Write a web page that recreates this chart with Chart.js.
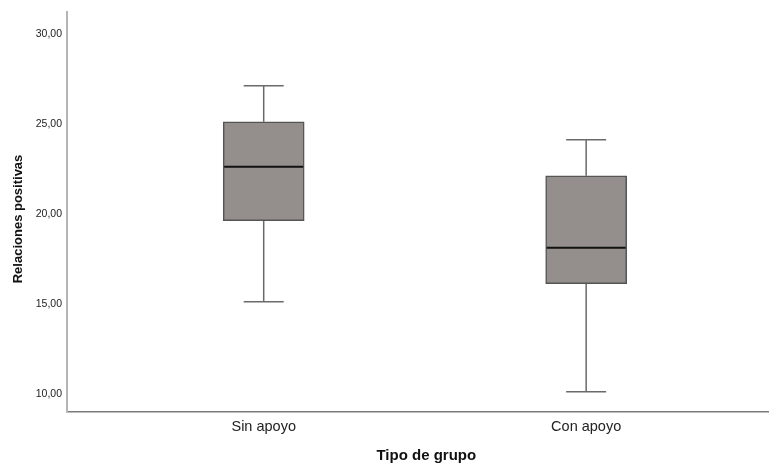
<!DOCTYPE html>
<html>
<head>
<meta charset="utf-8">
<script src="https://cdn.jsdelivr.net/npm/chart.js@4/dist/chart.umd.min.js"></script>
<style>
  html, body { margin: 0; padding: 0; background: #fff; }
  #wrap { width: 769px; height: 466px; }
</style>
</head>
<body>
<div id="wrap"><canvas id="myChart" width="769" height="466"></canvas></div>
<script>
const groups = ['Sin apoyo', 'Con apoyo'];
const whiskerLow = [15, 10];
const q1 = [19.5, 16];
const median = [22.5, 18];
const q3 = [25, 22];
const whiskerHigh = [27, 24];
const yTicks = [10, 15, 20, 25, 30];

const fontFamily = '"Liberation Sans", Arial, sans-serif';
const ctx = document.getElementById('myChart').getContext('2d');

// whiskers behind the box, median on top
const boxPlotLines = {
  id: 'boxPlotLines',
  beforeDatasetsDraw(chart) {
    const { ctx, scales: { x, y } } = chart;
    ctx.save();
    ctx.strokeStyle = '#6a6a6a';
    ctx.lineWidth = 1.5;
    groups.forEach((g, i) => {
      const cx = x.getPixelForValue(i + 1);
      const half = 20;
      ctx.beginPath();
      ctx.moveTo(cx, y.getPixelForValue(whiskerLow[i]));
      ctx.lineTo(cx, y.getPixelForValue(q1[i]));
      ctx.moveTo(cx, y.getPixelForValue(q3[i]));
      ctx.lineTo(cx, y.getPixelForValue(whiskerHigh[i]));
      ctx.moveTo(cx - half, y.getPixelForValue(whiskerLow[i]));
      ctx.lineTo(cx + half, y.getPixelForValue(whiskerLow[i]));
      ctx.moveTo(cx - half, y.getPixelForValue(whiskerHigh[i]));
      ctx.lineTo(cx + half, y.getPixelForValue(whiskerHigh[i]));
      ctx.stroke();
    });
    ctx.restore();
  },
  afterDatasetsDraw(chart) {
    const { ctx, scales: { x, y } } = chart;
    const meta = chart.getDatasetMeta(0);
    ctx.save();
    ctx.strokeStyle = '#111';
    ctx.lineWidth = 2;
    groups.forEach((g, i) => {
      const bar = meta.data[i];
      const half = bar.width / 2;
      const cx = x.getPixelForValue(i + 1);
      const my = y.getPixelForValue(median[i]);
      ctx.beginPath();
      ctx.moveTo(cx - half + 1, my);
      ctx.lineTo(cx + half - 1, my);
      ctx.stroke();
    });
    ctx.restore();
  }
};

const chart = new Chart(ctx, {
  type: 'bar',
  data: {
    datasets: [{
      label: 'Relaciones positivas',
      data: groups.map((g, i) => ({ x: i + 1, y: [q1[i], q3[i]] })),
      backgroundColor: '#948f8d',
      borderColor: '#555555',
      borderWidth: 1.5,
      borderSkipped: false,
      barThickness: 81,
    }],
  },
  options: {
    responsive: false,
    animation: false,
    layout: { padding: { top: 12, right: 0, left: 0, bottom: 0 } },
    plugins: {
      legend: { display: false },
      tooltip: { enabled: false },
    },
    scales: {
      x: {
        type: 'linear',
        offset: false,
        min: 0.39,
        max: 2.567,
        afterBuildTicks: (scale) => {
          scale.ticks = groups.map((g, i) => ({ value: i + 1 }));
        },
        afterFit: (scale) => { scale.height = 54.5; },
        grid: { display: false, drawTicks: false },
        border: { display: true, color: '#7a7a7a', width: 1.5 },
        ticks: {
          padding: 7,
          color: '#222',
          font: { family: fontFamily, size: 14.5 },
          callback: (value) => groups[value - 1] || '',
        },
        title: {
          display: true,
          text: '    Tipo de grupo',
          color: '#111',
          font: { family: fontFamily, size: 15, weight: 'bold' },
          padding: { top: 10, bottom: 1 },
        },
      },
      y: {
        min: 8.9,
        max: 31.1,
        afterBuildTicks: (scale) => {
          scale.ticks = yTicks.map(v => ({ value: v }));
        },
        afterFit: (scale) => { scale.width = 67; },
        grid: { display: false, drawTicks: false },
        border: { display: true, color: '#b5b5b5', width: 2 },
        ticks: {
          padding: 5,
          labelOffset: 2,
          color: '#222',
          font: { family: fontFamily, size: 10.5 },
          callback: (value) => value.toFixed(2).replace('.', ','),
        },
        title: {
          display: true,
          text: 'Relaciones positivas    ',
          color: '#111',
          font: { family: fontFamily, size: 13, weight: 'bold' },
          padding: { top: 11, bottom: 0 },
        },
      },
    },
  },
  plugins: [boxPlotLines],
});
</script>
</body>
</html>
